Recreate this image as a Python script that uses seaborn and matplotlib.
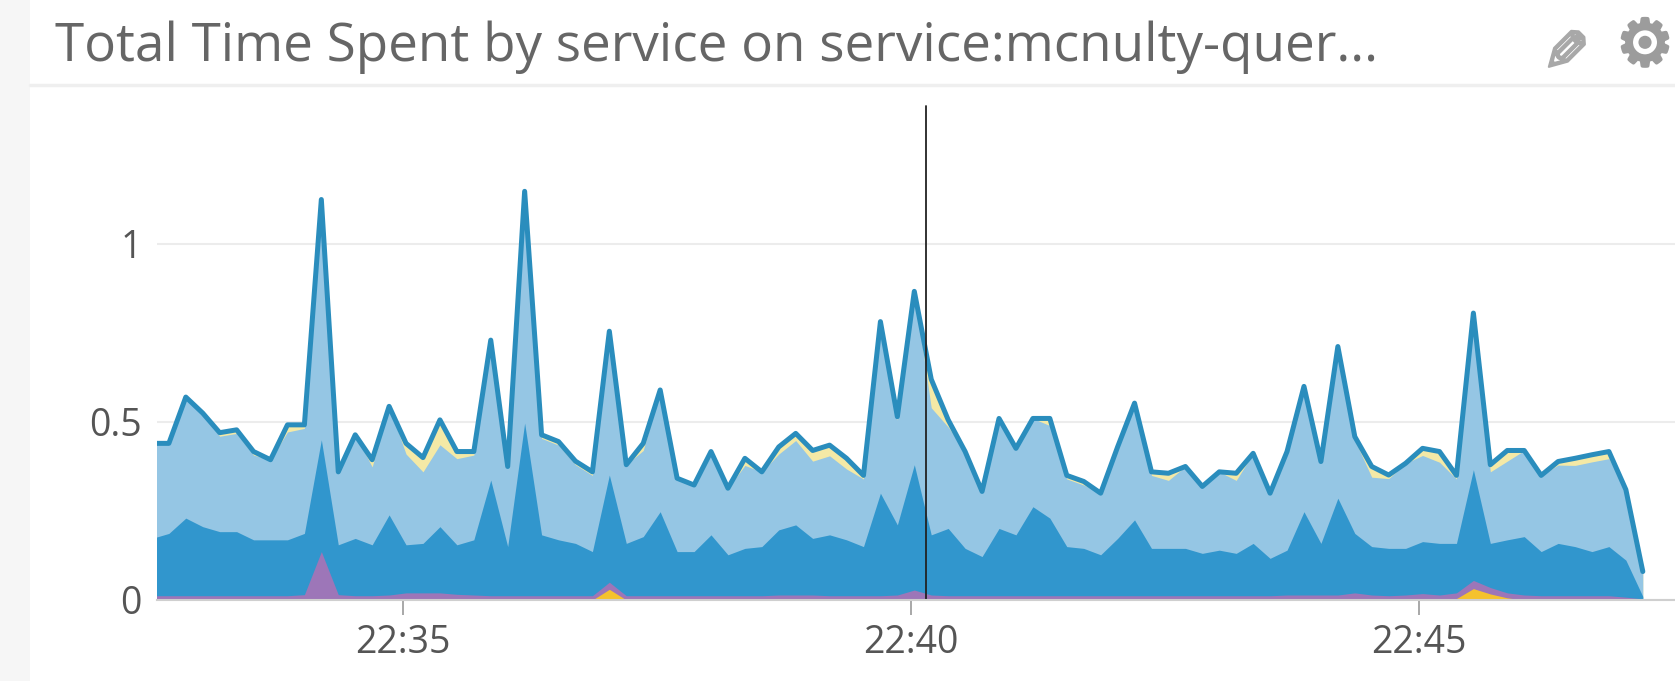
import numpy as np
import pandas as pd
import matplotlib
matplotlib.use('Agg')
import matplotlib.pyplot as plt
import matplotlib.dates as mdates
import matplotlib.patheffects as pe
from matplotlib.patches import Rectangle
from matplotlib.lines import Line2D
import seaborn as sns

TITLE = 'Total Time Spent by service on service:mcnulty-quer...'
START_TIME = '2016-01-01 22:32:32'
CURSOR_TIME = '2016-01-01 22:40:09'
X_LEFT = '2016-01-01 22:32:35'
X_RIGHT = '2016-01-01 22:47:31'
TICK_TIMES = ['2016-01-01 22:35', '2016-01-01 22:40', '2016-01-01 22:45']
Y_TICKS = [0, 0.5, 1]
Y_LABELS = ['0', '0.5', '1']

total = [
    .44, .44, .57, .525, .47, .478, .417, .394, .492, .492,
    1.125, .36, .464, .394, .544, .44, .40, .506, .417, .417,
    .73, .375, 1.148, .464, .445, .39, .36, .755, .38, .44,
    .59, .342, .323, .417, .314, .398, .36, .43, .468, .42,
    .435, .398, .35, .782, .515, .867, .62, .506, .417, .305,
    .51, .426, .51, .51, .35, .333, .30, .43, .553, .36,
    .356, .375, .319, .36, .356, .412, .30, .417, .60, .389,
    .712, .459, .375, .351, .384, .426, .417, .35, .806, .38,
    .42, .42, .35, .389, .398, .408, .417, .31, .08,
]
dark_top = [
    .173, .187, .23, .206, .192, .192, .169, .169, .169, .187,
    .45, .155, .173, .155, .239, .155, .159, .206, .155, .169,
    .337, .15, .497, .183, .169, .159, .136, .351, .159, .178,
    .248, .136, .136, .183, .127, .145, .15, .197, .211, .173,
    .183, .169, .15, .30, .211, .38, .183, .201, .145, .122,
    .201, .183, .262, .23, .15, .145, .127, .173, .225, .145,
    .145, .145, .131, .14, .131, .159, .117, .14, .248, .159,
    .286, .187, .15, .145, .145, .164, .159, .159, .366, .159,
    .169, .178, .136, .159, .15, .136, .15, .112, .01,
]
# distance between the light blue top and the total line (pale yellow band)
yellow_gap = [
    0, 0, 0, 0, .01, .01, .01, 0, .02, .01,
    0, 0, 0, .02, 0, .03, .04, .07, .02, .01,
    0, 0, 0, .01, .01, .01, .01, 0, 0, .02,
    0, 0, 0, 0, 0, .02, 0, .02, .02, .03,
    .03, .03, .01, 0, .01, 0, .08, .02, 0, 0,
    0, 0, 0, .02, .01, .01, 0, 0, 0, .01,
    .02, 0, 0, 0, .02, 0, 0, 0, 0, 0,
    0, .01, .03, .01, 0, .02, .03, .01, 0, .02,
    .03, 0, 0, .01, .02, .02, .02, 0, 0,
]
purple_top = [
    .012, .012, .012, .012, .012, .012, .012, .012, .012, .015,
    .136, .015, .012, .012, .014, .02, .02, .02, .016, .014,
    .012, .012, .012, .012, .012, .012, .012, .05, .012, .012,
    .012, .012, .012, .012, .012, .012, .012, .014, .014, .014,
    .012, .012, .012, .012, .014, .028, .014, .012, .012, .012,
    .012, .012, .012, .012, .012, .012, .012, .012, .012, .012,
    .012, .012, .012, .012, .012, .012, .012, .014, .014, .014,
    .014, .02, .014, .012, .014, .018, .014, .02, .055, .035,
    .02, .014, .012, .012, .012, .012, .012, .008, .003,
]
orange_top = [
    0, 0, 0, 0, 0, 0, 0, 0, 0, 0,
    0, 0, 0, 0, 0, 0, 0, 0, 0, 0,
    0, 0, 0, 0, 0, 0, 0, .03, 0, 0,
    0, 0, 0, 0, 0, 0, 0, 0, 0, 0,
    0, 0, 0, 0, 0, 0, 0, 0, 0, 0,
    0, 0, 0, 0, 0, 0, 0, 0, 0, 0,
    0, 0, 0, 0, 0, 0, 0, 0, 0, 0,
    0, 0, 0, 0, 0, 0, 0, .004, .032, .017,
    .006, 0, 0, 0, 0, 0, 0, 0, 0,
]

sns.set_style('white')
plt.rcParams['font.family'] = ['Open Sans', 'DejaVu Sans']

W, H = 1675, 681
fig = plt.figure(figsize=(W / 100, H / 100), dpi=100, facecolor='white')
ax = fig.add_axes([157 / W, (H - 600) / H, (W - 157) / W, 500 / H])

times = pd.date_range(START_TIME, periods=len(total), freq='10s')
total_arr = np.array(total)
light_top = total_arr - np.array(yellow_gap)

ax.fill_between(times, 0, total_arr, color='#f4e9a6', lw=0, zorder=2)
ax.fill_between(times, 0, light_top, color='#95c6e4', lw=0, zorder=3)
ax.fill_between(times, 0, dark_top, color='#3196cd', lw=0, zorder=4)
ax.fill_between(times, 0, purple_top, color='#9d76b8', lw=0, zorder=5)
ax.fill_between(times, 0, orange_top, color='#f5c22e', lw=0, zorder=6)

df = pd.DataFrame({'time': times, 'total': total})
sns.lineplot(data=df, x='time', y='total', ax=ax, color='#2a8dbd', lw=3.6, zorder=7)

ax.axvline(pd.Timestamp(CURSOR_TIME), ymax=0.989, color='#222222', lw=1.3, zorder=8)

ax.set_xlim(pd.Timestamp(X_LEFT), pd.Timestamp(X_RIGHT))
ax.set_ylim(0, 500 / 356)
ax.set_xlabel('')
ax.set_ylabel('')
ax.set_xticks([pd.Timestamp(t) for t in TICK_TIMES])
ax.xaxis.set_major_formatter(mdates.DateFormatter('%H:%M'))
ax.set_yticks(Y_TICKS)
ax.set_yticklabels(Y_LABELS)
ax.tick_params(axis='x', length=11, width=1.2, color='#999999', labelsize=27,
               labelcolor='#555555', pad=6, bottom=True)
ax.tick_params(axis='y', length=0, labelsize=27, labelcolor='#555555', pad=11)
ax.grid(axis='y', color='#ececec', lw=1.5, zorder=1)
ax.grid(axis='x', visible=False)
for side in ['top', 'left', 'right']:
    ax.spines[side].set_visible(False)
ax.spines['bottom'].set_color('#cfcfcf')
ax.spines['bottom'].set_linewidth(1.5)
ax.spines['bottom'].set_zorder(9)

# page strip and widget header
fig.add_artist(Rectangle((0, 0), 30 / W, 1, transform=fig.transFigure,
                         color='#f6f6f6', lw=0))
fig.add_artist(Line2D([30 / W, 1], [1 - 85 / H, 1 - 85 / H], color='#efefef', lw=2.5))
fig.text(55 / W, 1 - 47 / H, TITLE, fontsize=38.2, color='#666666', va='center', ha='left')
pencil = fig.text(1562 / W, 1 - 47 / H, '\u270f', fontsize=42, color='#a8a8a8', va='center',
                  ha='center', family='DejaVu Sans', rotation=225, rotation_mode='anchor')
pencil.set_path_effects([pe.withStroke(linewidth=1.5, foreground='#a8a8a8')])
gear = fig.text(1645 / W, 1 - 47 / H, '\u2699', fontsize=46, color='#9c9c9c', va='center',
                ha='center', family='DejaVu Sans')
gear.set_path_effects([pe.withStroke(linewidth=2.5, foreground='#9c9c9c')])

fig.savefig('out.png', dpi=100)
